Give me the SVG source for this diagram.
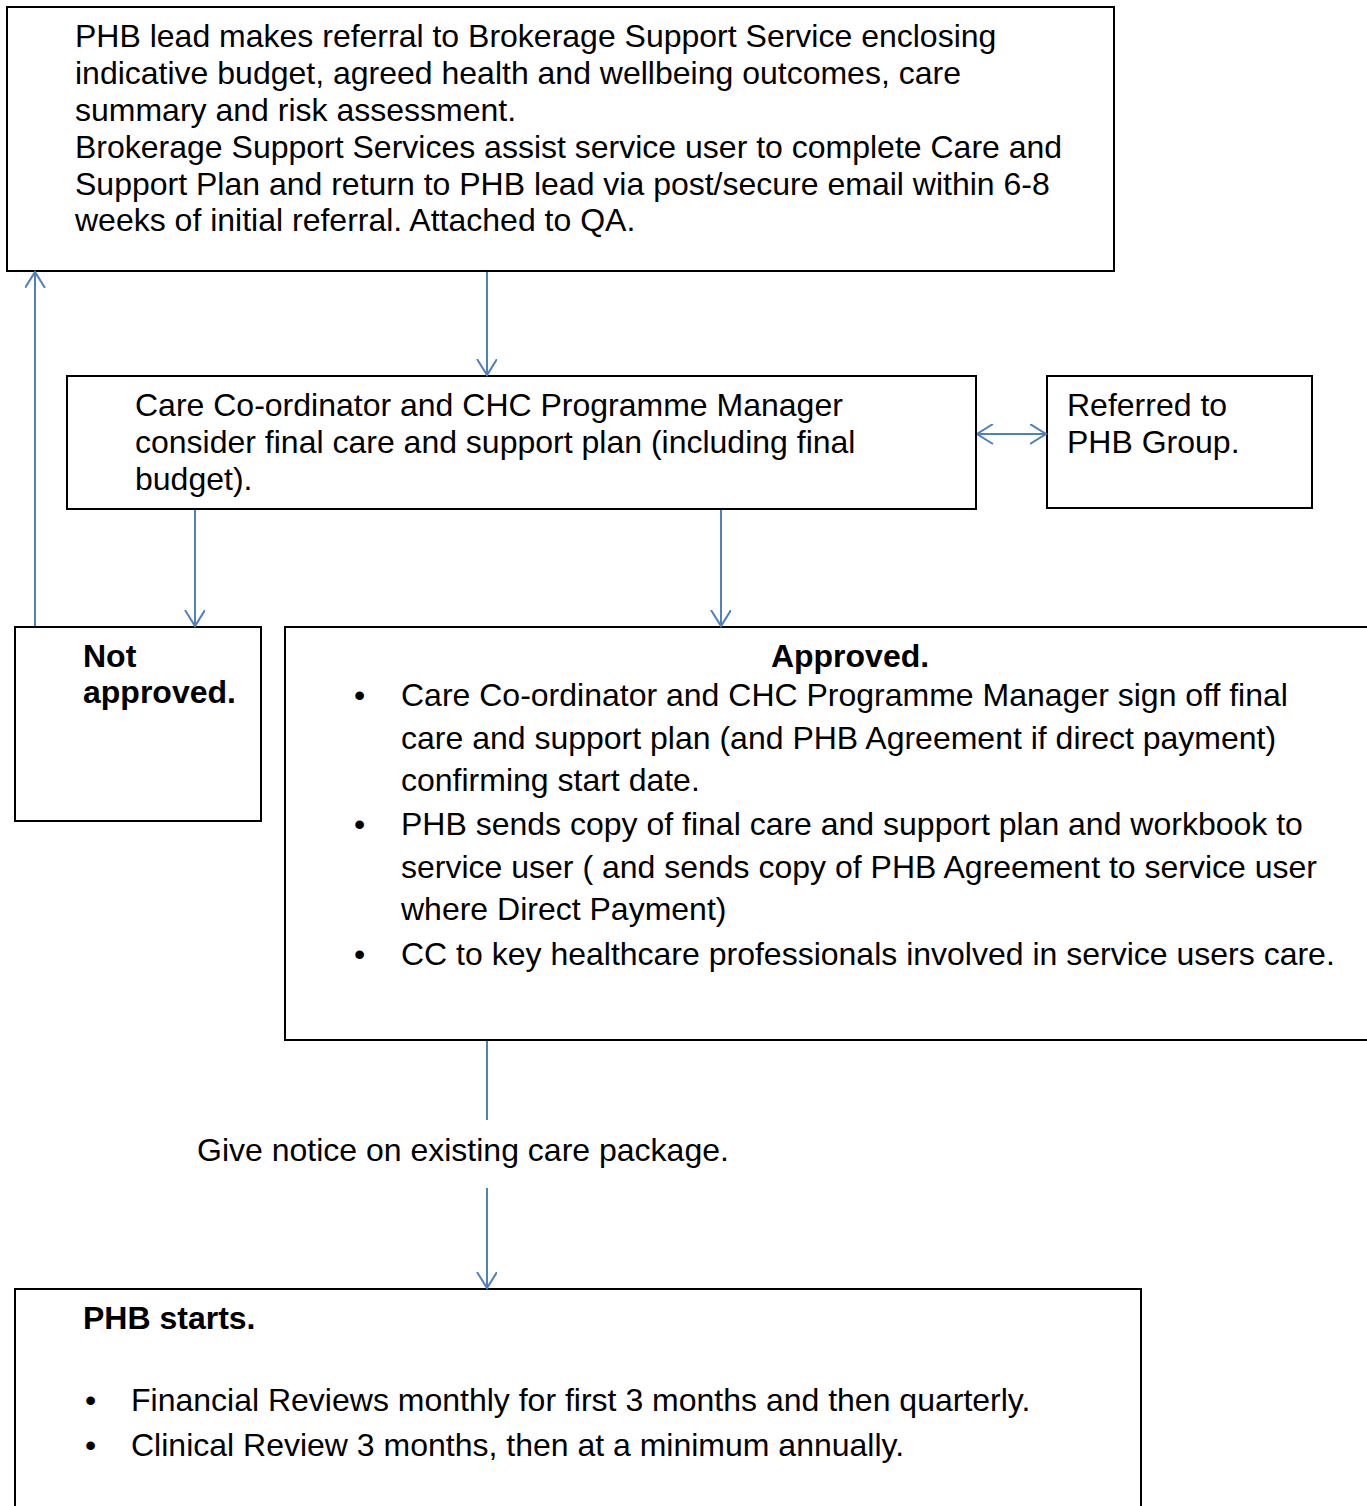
<svg xmlns="http://www.w3.org/2000/svg" width="1367" height="1506" viewBox="0 0 1367 1506">
<style>
.box{fill:#fff;stroke:#000;stroke-width:2}
text{font-family:"Liberation Sans",Arial,sans-serif;font-size:32px;fill:#000}
.b{font-weight:bold}
.c{stroke:#4F81BD;stroke-width:2;fill:none}
</style>
<defs>
<marker id="ah" markerWidth="24" markerHeight="24" refX="16" refY="10" orient="auto" markerUnits="userSpaceOnUse">
<path d="M0,0 L16,10 L0,20" fill="none" stroke="#4F81BD" stroke-width="2"/>
</marker>
<marker id="as" markerWidth="24" markerHeight="24" refX="0" refY="10" orient="auto" markerUnits="userSpaceOnUse">
<path d="M16,0 L0,10 L16,20" fill="none" stroke="#4F81BD" stroke-width="2"/>
</marker>
</defs>
<rect width="1367" height="1506" fill="#fff"/>
<g id="n1">
<rect class="box" x="7" y="7" width="1107" height="264"/>
<text x="75" y="47">PHB lead makes referral to Brokerage Support Service enclosing</text>
<text x="75" y="84">indicative budget, agreed health and wellbeing outcomes, care</text>
<text x="75" y="121">summary and risk assessment.</text>
<text x="75" y="158">Brokerage Support Services assist service user to complete Care and</text>
<text x="75" y="195">Support Plan and return to PHB lead via post/secure email within 6-8</text>
<text x="75" y="231">weeks of initial referral. Attached to QA.</text>
</g>
<g id="n2">
<rect class="box" x="67" y="376" width="909" height="133"/>
<text x="135" y="416">Care Co-ordinator and CHC Programme Manager</text>
<text x="135" y="453">consider final care and support plan (including final</text>
<text x="135" y="490">budget).</text>
</g>
<g id="n3">
<rect class="box" x="1047" y="376" width="265" height="132"/>
<text x="1067" y="416">Referred to</text>
<text x="1067" y="453">PHB Group.</text>
</g>
<g id="n4">
<rect class="box" x="15" y="627" width="246" height="194"/>
<text class="b" x="83" y="667">Not</text>
<text class="b" x="83" y="703">approved.</text>
</g>
<g id="n5">
<rect class="box" x="285" y="627" width="1090" height="413"/>
<text class="b" x="850" y="667" text-anchor="middle">Approved.</text>
<text x="354" y="706">•</text>
<text x="401" y="706">Care Co-ordinator and CHC Programme Manager sign off final</text>
<text x="401" y="749">care and support plan (and PHB Agreement if direct payment)</text>
<text x="401" y="791">confirming start date.</text>
<text x="354" y="835">•</text>
<text x="401" y="835">PHB sends copy of final care and support plan and workbook to</text>
<text x="401" y="878">service user ( and sends copy of PHB Agreement to service user</text>
<text x="401" y="920">where Direct Payment)</text>
<text x="354" y="965">•</text>
<text x="401" y="965">CC to key healthcare professionals involved in service users care.</text>
</g>
<g id="n6">
<text x="197" y="1161">Give notice on existing care package.</text>
</g>
<g id="n7">
<rect class="box" x="15" y="1289" width="1126" height="240"/>
<text class="b" x="83" y="1329">PHB starts.</text>
<text x="85" y="1411">•</text>
<text x="131" y="1411">Financial Reviews monthly for first 3 months and then quarterly.</text>
<text x="85" y="1456">•</text>
<text x="131" y="1456">Clinical Review 3 months, then at a minimum annually.</text>
</g>
<g id="connectors">
<line class="c" x1="487" y1="272" x2="487" y2="375" marker-end="url(#ah)"/>
<line class="c" x1="35" y1="626" x2="35" y2="272" marker-end="url(#ah)"/>
<line class="c" x1="195" y1="510" x2="195" y2="626" marker-end="url(#ah)"/>
<line class="c" x1="721" y1="510" x2="721" y2="626" marker-end="url(#ah)"/>
<line class="c" x1="977" y1="434" x2="1046" y2="434" marker-start="url(#as)" marker-end="url(#ah)"/>
<line class="c" x1="487" y1="1041" x2="487" y2="1120"/>
<line class="c" x1="487" y1="1188" x2="487" y2="1288" marker-end="url(#ah)"/>
</g>
</svg>
